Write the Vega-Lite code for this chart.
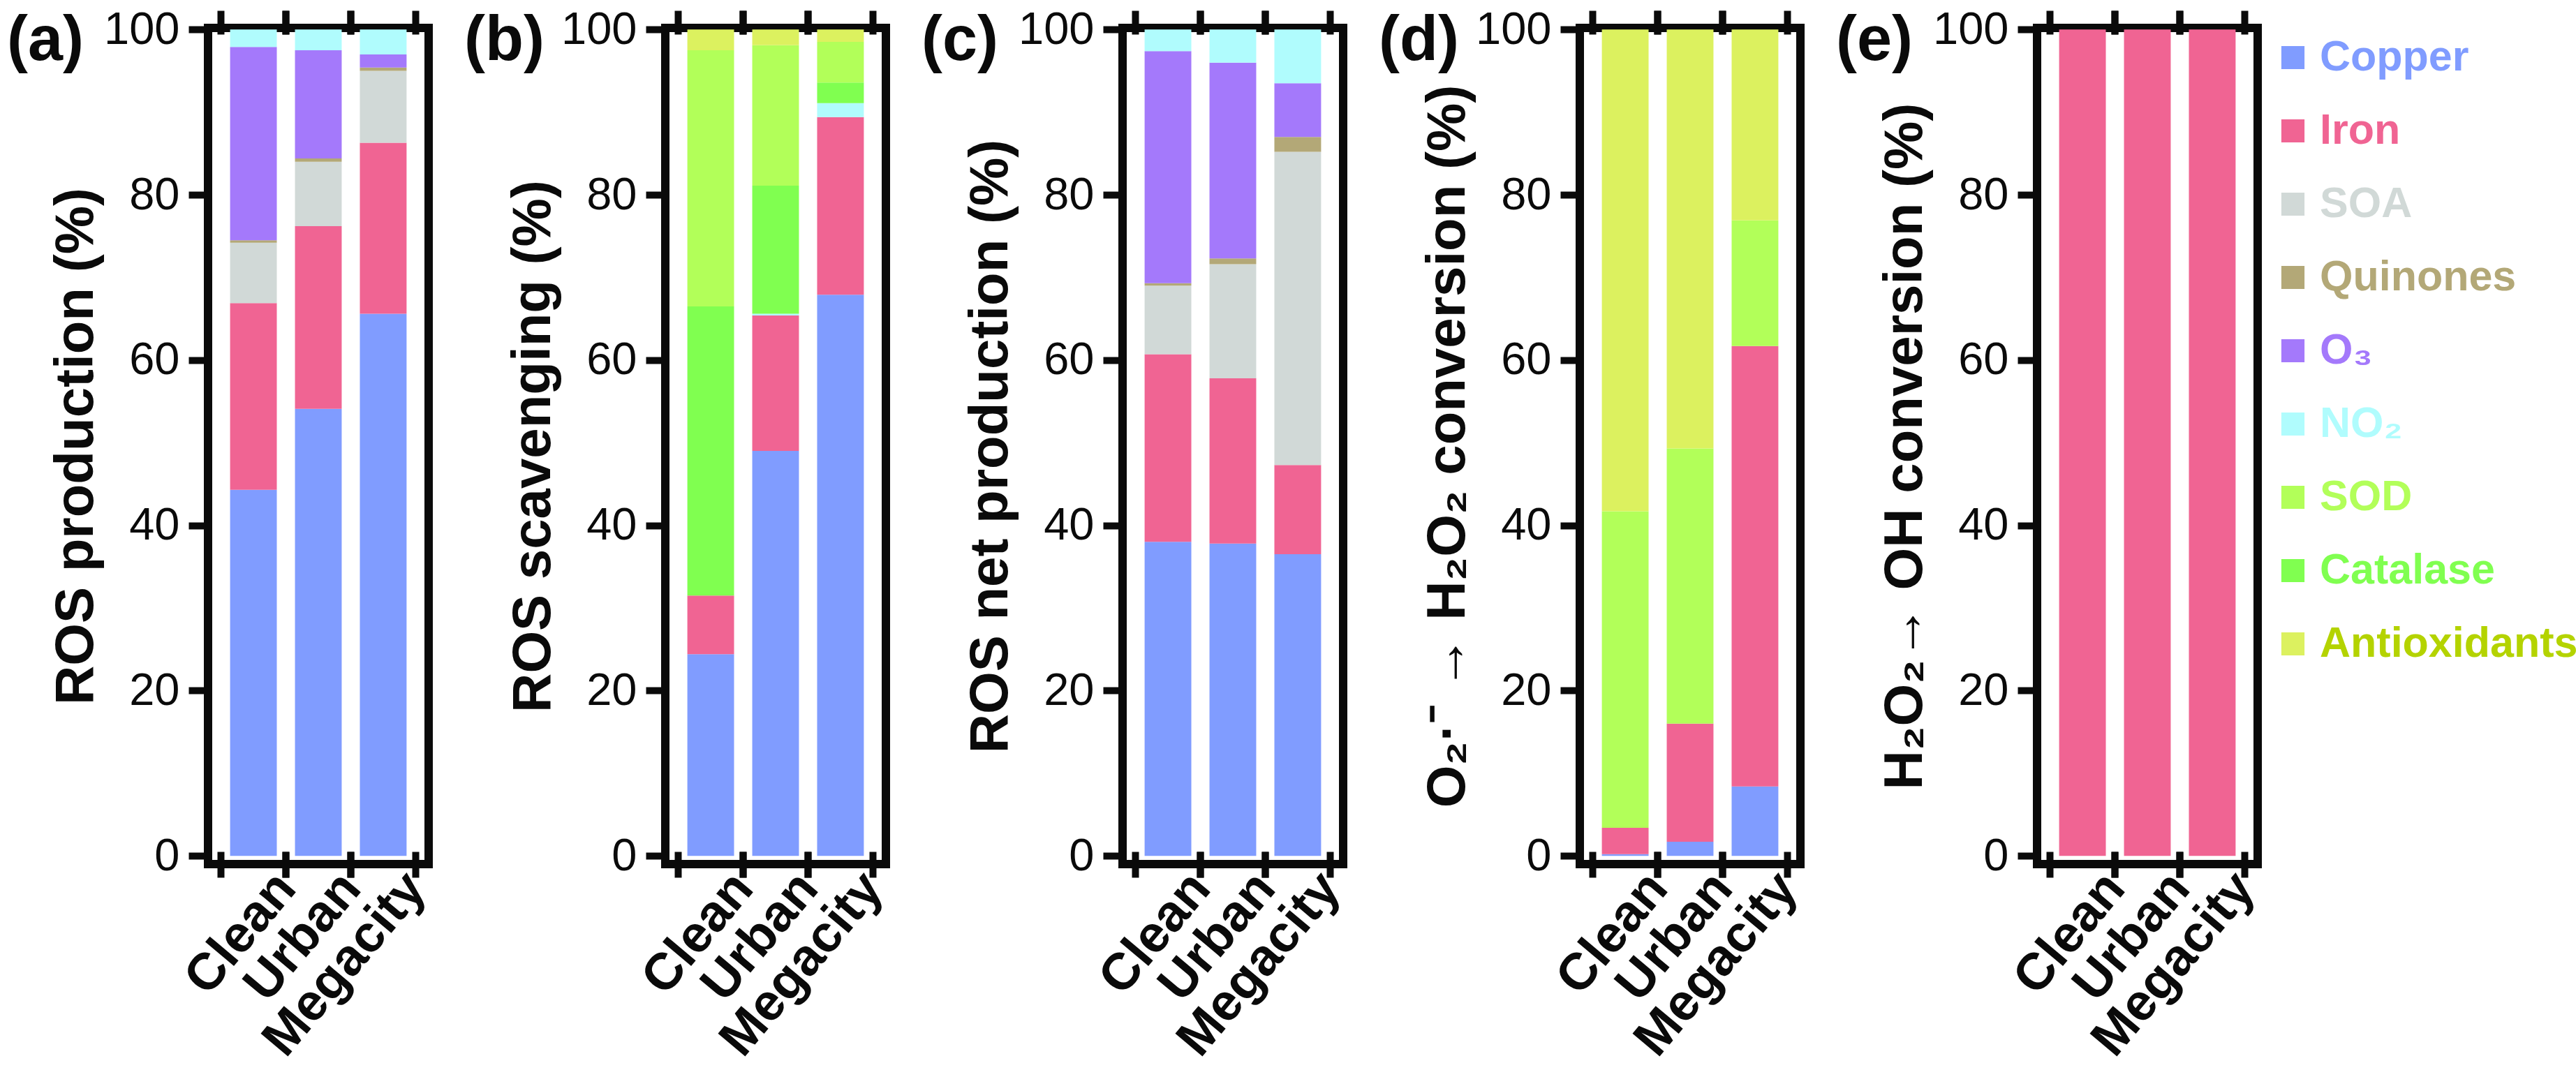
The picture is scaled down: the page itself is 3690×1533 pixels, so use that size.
{
  "$schema": "https://vega.github.io/schema/vega-lite/v6.json",
  "padding": {"top": 4, "left": 4, "right": 0, "bottom": 0},
  "autosize": {"type": "pad"},
  "background": "white",
  "data": {"values": [
    {"panel":"a","site":"Clean","source":"Copper","tier":1,"value":44.3},
    {"panel":"a","site":"Clean","source":"Iron","tier":2,"value":22.6},
    {"panel":"a","site":"Clean","source":"SOA","tier":3,"value":7.3},
    {"panel":"a","site":"Clean","source":"Quinones","tier":4,"value":0.3},
    {"panel":"a","site":"Clean","source":"O₃","tier":5,"value":23.4},
    {"panel":"a","site":"Clean","source":"NO₂","tier":6,"value":2.1},
    {"panel":"a","site":"Urban","source":"Copper","tier":1,"value":54.1},
    {"panel":"a","site":"Urban","source":"Iron","tier":2,"value":22.1},
    {"panel":"a","site":"Urban","source":"SOA","tier":3,"value":7.8},
    {"panel":"a","site":"Urban","source":"Quinones","tier":4,"value":0.4},
    {"panel":"a","site":"Urban","source":"O₃","tier":5,"value":13.1},
    {"panel":"a","site":"Urban","source":"NO₂","tier":6,"value":2.5},
    {"panel":"a","site":"Megacity","source":"Copper","tier":1,"value":65.6},
    {"panel":"a","site":"Megacity","source":"Iron","tier":2,"value":20.7},
    {"panel":"a","site":"Megacity","source":"SOA","tier":3,"value":8.7},
    {"panel":"a","site":"Megacity","source":"Quinones","tier":4,"value":0.4},
    {"panel":"a","site":"Megacity","source":"O₃","tier":5,"value":1.6},
    {"panel":"a","site":"Megacity","source":"NO₂","tier":6,"value":3.0},
    {"panel":"b","site":"Clean","source":"Copper","tier":1,"value":24.4},
    {"panel":"b","site":"Clean","source":"Iron","tier":2,"value":7.1},
    {"panel":"b","site":"Clean","source":"Catalase","tier":7,"value":35.0},
    {"panel":"b","site":"Clean","source":"SOD","tier":8,"value":31.0},
    {"panel":"b","site":"Clean","source":"Antioxidants","tier":9,"value":2.5},
    {"panel":"b","site":"Urban","source":"Copper","tier":1,"value":49.0},
    {"panel":"b","site":"Urban","source":"Iron","tier":2,"value":16.4},
    {"panel":"b","site":"Urban","source":"NO₂","tier":6,"value":0.2},
    {"panel":"b","site":"Urban","source":"Catalase","tier":7,"value":15.5},
    {"panel":"b","site":"Urban","source":"SOD","tier":8,"value":17.0},
    {"panel":"b","site":"Urban","source":"Antioxidants","tier":9,"value":1.9},
    {"panel":"b","site":"Megacity","source":"Copper","tier":1,"value":67.9},
    {"panel":"b","site":"Megacity","source":"Iron","tier":2,"value":21.5},
    {"panel":"b","site":"Megacity","source":"NO₂","tier":6,"value":1.7},
    {"panel":"b","site":"Megacity","source":"Catalase","tier":7,"value":2.5},
    {"panel":"b","site":"Megacity","source":"SOD","tier":8,"value":4.9},
    {"panel":"b","site":"Megacity","source":"Antioxidants","tier":9,"value":1.5},
    {"panel":"c","site":"Clean","source":"Copper","tier":1,"value":38.0},
    {"panel":"c","site":"Clean","source":"Iron","tier":2,"value":22.7},
    {"panel":"c","site":"Clean","source":"SOA","tier":3,"value":8.3},
    {"panel":"c","site":"Clean","source":"Quinones","tier":4,"value":0.3},
    {"panel":"c","site":"Clean","source":"O₃","tier":5,"value":28.1},
    {"panel":"c","site":"Clean","source":"NO₂","tier":6,"value":2.6},
    {"panel":"c","site":"Urban","source":"Copper","tier":1,"value":37.8},
    {"panel":"c","site":"Urban","source":"Iron","tier":2,"value":20.0},
    {"panel":"c","site":"Urban","source":"SOA","tier":3,"value":13.8},
    {"panel":"c","site":"Urban","source":"Quinones","tier":4,"value":0.7},
    {"panel":"c","site":"Urban","source":"O₃","tier":5,"value":23.7},
    {"panel":"c","site":"Urban","source":"NO₂","tier":6,"value":4.0},
    {"panel":"c","site":"Megacity","source":"Copper","tier":1,"value":36.5},
    {"panel":"c","site":"Megacity","source":"Iron","tier":2,"value":10.8},
    {"panel":"c","site":"Megacity","source":"SOA","tier":3,"value":37.9},
    {"panel":"c","site":"Megacity","source":"Quinones","tier":4,"value":1.8},
    {"panel":"c","site":"Megacity","source":"O₃","tier":5,"value":6.5},
    {"panel":"c","site":"Megacity","source":"NO₂","tier":6,"value":6.5},
    {"panel":"d","site":"Clean","source":"Copper","tier":1,"value":0.2},
    {"panel":"d","site":"Clean","source":"Iron","tier":2,"value":3.2},
    {"panel":"d","site":"Clean","source":"SOD","tier":8,"value":38.3},
    {"panel":"d","site":"Clean","source":"Antioxidants","tier":9,"value":58.3},
    {"panel":"d","site":"Urban","source":"Copper","tier":1,"value":1.7},
    {"panel":"d","site":"Urban","source":"Iron","tier":2,"value":14.3},
    {"panel":"d","site":"Urban","source":"SOD","tier":8,"value":33.3},
    {"panel":"d","site":"Urban","source":"Antioxidants","tier":9,"value":50.7},
    {"panel":"d","site":"Megacity","source":"Copper","tier":1,"value":8.4},
    {"panel":"d","site":"Megacity","source":"Iron","tier":2,"value":53.3},
    {"panel":"d","site":"Megacity","source":"SOD","tier":8,"value":15.2},
    {"panel":"d","site":"Megacity","source":"Antioxidants","tier":9,"value":23.1},
    {"panel":"e","site":"Clean","source":"Iron","tier":2,"value":100},
    {"panel":"e","site":"Urban","source":"Iron","tier":2,"value":100},
    {"panel":"e","site":"Megacity","source":"Iron","tier":2,"value":100}
  ]},
  "spacing": 339,
  "bounds": "flush",
  "hconcat": [
    {
      "title": {"text": "(a)"},
      "width": 316, "height": 1198,
      "transform": [{"filter": "datum.panel === 'a'"}],
      "encoding": {
        "y": {"field": "value", "type": "quantitative", "stack": "zero",
              "scale": {"domain": [-1, 100.2], "nice": false, "zero": false},
              "axis": {"title": "ROS production (%)", "values": [0, 20, 40, 60, 80, 100]}}
      },
      "layer": [
        {"mark": {"type": "bar", "width": {"band": 0.72}},
         "encoding": {
           "x": {"field": "site", "type": "nominal", "sort": ["Clean", "Urban", "Megacity"], "scale": {"paddingInner": 0, "paddingOuter": 0.2},
                 "axis": {"orient": "bottom", "bandPosition": 0, "offset": -18, "tickSize": 37, "labels": true, "title": null}},
           "color": {"field": "source", "type": "nominal",
                     "scale": {"domain": ["Copper", "Iron", "SOA", "Quinones", "O₃", "NO₂", "SOD", "Catalase", "Antioxidants"],
                               "range": ["#809CFF", "#F06493", "#D1D9D7", "#B3A877", "#A479FB", "#B0FCFD", "#B2FF59", "#80FF50", "#DCF15F"]},
                     "legend": {"orient": "none", "legendX": 2956, "legendY": 12, "title": null, "padding": 0,
                                "symbolType": "square", "symbolSize": 1100, "symbolStrokeWidth": 0, "symbolOpacity": 1,
                                "labelFontSize": 61, "labelFontWeight": "bold", "labelFont": "Liberation Sans", "labelOffset": 8, "labelLimit": 600, "rowPadding": 43,
                                "labelColor": {"expr": "datum.value === 'Antioxidants' ? '#B4D300' : scale('color', datum.value)"}}},
           "order": {"field": "tier", "type": "quantitative", "sort": "ascending"}
         }},
        {"mark": {"type": "bar", "width": {"band": 0.72}, "opacity": 0},
         "encoding": {"x": {"field": "site", "type": "nominal", "sort": ["Clean", "Urban", "Megacity"], "axis": {"orient": "bottom", "bandPosition": 1, "offset": -18, "tickSize": 37, "labels": false, "title": null}}}},
        {"mark": {"type": "bar", "width": {"band": 0.72}, "opacity": 0},
         "encoding": {"x": {"field": "site", "type": "nominal", "sort": ["Clean", "Urban", "Megacity"], "axis": {"orient": "top", "bandPosition": 0, "offset": -9, "tickSize": 34, "labels": false, "title": null}}}},
        {"mark": {"type": "bar", "width": {"band": 0.72}, "opacity": 0},
         "encoding": {"x": {"field": "site", "type": "nominal", "sort": ["Clean", "Urban", "Megacity"], "axis": {"orient": "top", "bandPosition": 1, "offset": -9, "tickSize": 34, "labels": false, "title": null}}}}
      ],
      "resolve": {"axis": {"x": "independent"}}
    },
    {
      "title": {"text": "(b)"},
      "width": 316, "height": 1198,
      "transform": [{"filter": "datum.panel === 'b'"}],
      "encoding": {
        "y": {"field": "value", "type": "quantitative", "stack": "zero",
              "scale": {"domain": [-1, 100.2], "nice": false, "zero": false},
              "axis": {"title": "ROS scavenging (%)", "values": [0, 20, 40, 60, 80, 100]}}
      },
      "layer": [
        {"mark": {"type": "bar", "width": {"band": 0.72}},
         "encoding": {
           "x": {"field": "site", "type": "nominal", "sort": ["Clean", "Urban", "Megacity"], "scale": {"paddingInner": 0, "paddingOuter": 0.2},
                 "axis": {"orient": "bottom", "bandPosition": 0, "offset": -18, "tickSize": 37, "labels": true, "title": null}},
           "color": {"field": "source", "type": "nominal",
                     "scale": {"domain": ["Copper", "Iron", "SOA", "Quinones", "O₃", "NO₂", "SOD", "Catalase", "Antioxidants"],
                               "range": ["#809CFF", "#F06493", "#D1D9D7", "#B3A877", "#A479FB", "#B0FCFD", "#B2FF59", "#80FF50", "#DCF15F"]}},
           "order": {"field": "tier", "type": "quantitative", "sort": "ascending"}
         }},
        {"mark": {"type": "bar", "width": {"band": 0.72}, "opacity": 0},
         "encoding": {"x": {"field": "site", "type": "nominal", "sort": ["Clean", "Urban", "Megacity"], "axis": {"orient": "bottom", "bandPosition": 1, "offset": -18, "tickSize": 37, "labels": false, "title": null}}}},
        {"mark": {"type": "bar", "width": {"band": 0.72}, "opacity": 0},
         "encoding": {"x": {"field": "site", "type": "nominal", "sort": ["Clean", "Urban", "Megacity"], "axis": {"orient": "top", "bandPosition": 0, "offset": -9, "tickSize": 34, "labels": false, "title": null}}}},
        {"mark": {"type": "bar", "width": {"band": 0.72}, "opacity": 0},
         "encoding": {"x": {"field": "site", "type": "nominal", "sort": ["Clean", "Urban", "Megacity"], "axis": {"orient": "top", "bandPosition": 1, "offset": -9, "tickSize": 34, "labels": false, "title": null}}}}
      ],
      "resolve": {"axis": {"x": "independent"}}
    },
    {
      "title": {"text": "(c)"},
      "width": 316, "height": 1198,
      "transform": [{"filter": "datum.panel === 'c'"}],
      "encoding": {
        "y": {"field": "value", "type": "quantitative", "stack": "zero",
              "scale": {"domain": [-1, 100.2], "nice": false, "zero": false},
              "axis": {"title": "ROS net production (%)", "values": [0, 20, 40, 60, 80, 100]}}
      },
      "layer": [
        {"mark": {"type": "bar", "width": {"band": 0.72}},
         "encoding": {
           "x": {"field": "site", "type": "nominal", "sort": ["Clean", "Urban", "Megacity"], "scale": {"paddingInner": 0, "paddingOuter": 0.2},
                 "axis": {"orient": "bottom", "bandPosition": 0, "offset": -18, "tickSize": 37, "labels": true, "title": null}},
           "color": {"field": "source", "type": "nominal",
                     "scale": {"domain": ["Copper", "Iron", "SOA", "Quinones", "O₃", "NO₂", "SOD", "Catalase", "Antioxidants"],
                               "range": ["#809CFF", "#F06493", "#D1D9D7", "#B3A877", "#A479FB", "#B0FCFD", "#B2FF59", "#80FF50", "#DCF15F"]}},
           "order": {"field": "tier", "type": "quantitative", "sort": "ascending"}
         }},
        {"mark": {"type": "bar", "width": {"band": 0.72}, "opacity": 0},
         "encoding": {"x": {"field": "site", "type": "nominal", "sort": ["Clean", "Urban", "Megacity"], "axis": {"orient": "bottom", "bandPosition": 1, "offset": -18, "tickSize": 37, "labels": false, "title": null}}}},
        {"mark": {"type": "bar", "width": {"band": 0.72}, "opacity": 0},
         "encoding": {"x": {"field": "site", "type": "nominal", "sort": ["Clean", "Urban", "Megacity"], "axis": {"orient": "top", "bandPosition": 0, "offset": -9, "tickSize": 34, "labels": false, "title": null}}}},
        {"mark": {"type": "bar", "width": {"band": 0.72}, "opacity": 0},
         "encoding": {"x": {"field": "site", "type": "nominal", "sort": ["Clean", "Urban", "Megacity"], "axis": {"orient": "top", "bandPosition": 1, "offset": -9, "tickSize": 34, "labels": false, "title": null}}}}
      ],
      "resolve": {"axis": {"x": "independent"}}
    },
    {
      "title": {"text": "(d)"},
      "width": 316, "height": 1198,
      "transform": [{"filter": "datum.panel === 'd'"}],
      "encoding": {
        "y": {"field": "value", "type": "quantitative", "stack": "zero",
              "scale": {"domain": [-1, 100.2], "nice": false, "zero": false},
              "axis": {"title": "O₂·⁻ → H₂O₂ conversion (%)", "values": [0, 20, 40, 60, 80, 100]}}
      },
      "layer": [
        {"mark": {"type": "bar", "width": {"band": 0.72}},
         "encoding": {
           "x": {"field": "site", "type": "nominal", "sort": ["Clean", "Urban", "Megacity"], "scale": {"paddingInner": 0, "paddingOuter": 0.2},
                 "axis": {"orient": "bottom", "bandPosition": 0, "offset": -18, "tickSize": 37, "labels": true, "title": null}},
           "color": {"field": "source", "type": "nominal",
                     "scale": {"domain": ["Copper", "Iron", "SOA", "Quinones", "O₃", "NO₂", "SOD", "Catalase", "Antioxidants"],
                               "range": ["#809CFF", "#F06493", "#D1D9D7", "#B3A877", "#A479FB", "#B0FCFD", "#B2FF59", "#80FF50", "#DCF15F"]}},
           "order": {"field": "tier", "type": "quantitative", "sort": "ascending"}
         }},
        {"mark": {"type": "bar", "width": {"band": 0.72}, "opacity": 0},
         "encoding": {"x": {"field": "site", "type": "nominal", "sort": ["Clean", "Urban", "Megacity"], "axis": {"orient": "bottom", "bandPosition": 1, "offset": -18, "tickSize": 37, "labels": false, "title": null}}}},
        {"mark": {"type": "bar", "width": {"band": 0.72}, "opacity": 0},
         "encoding": {"x": {"field": "site", "type": "nominal", "sort": ["Clean", "Urban", "Megacity"], "axis": {"orient": "top", "bandPosition": 0, "offset": -9, "tickSize": 34, "labels": false, "title": null}}}},
        {"mark": {"type": "bar", "width": {"band": 0.72}, "opacity": 0},
         "encoding": {"x": {"field": "site", "type": "nominal", "sort": ["Clean", "Urban", "Megacity"], "axis": {"orient": "top", "bandPosition": 1, "offset": -9, "tickSize": 34, "labels": false, "title": null}}}}
      ],
      "resolve": {"axis": {"x": "independent"}}
    },
    {
      "title": {"text": "(e)"},
      "width": 316, "height": 1198,
      "transform": [{"filter": "datum.panel === 'e'"}],
      "encoding": {
        "y": {"field": "value", "type": "quantitative", "stack": "zero",
              "scale": {"domain": [-1, 100.2], "nice": false, "zero": false},
              "axis": {"title": "H₂O₂→ OH conversion (%)", "values": [0, 20, 40, 60, 80, 100]}}
      },
      "layer": [
        {"mark": {"type": "bar", "width": {"band": 0.72}},
         "encoding": {
           "x": {"field": "site", "type": "nominal", "sort": ["Clean", "Urban", "Megacity"], "scale": {"paddingInner": 0, "paddingOuter": 0.2},
                 "axis": {"orient": "bottom", "bandPosition": 0, "offset": -18, "tickSize": 37, "labels": true, "title": null}},
           "color": {"field": "source", "type": "nominal",
                     "scale": {"domain": ["Copper", "Iron", "SOA", "Quinones", "O₃", "NO₂", "SOD", "Catalase", "Antioxidants"],
                               "range": ["#809CFF", "#F06493", "#D1D9D7", "#B3A877", "#A479FB", "#B0FCFD", "#B2FF59", "#80FF50", "#DCF15F"]}},
           "order": {"field": "tier", "type": "quantitative", "sort": "ascending"}
         }},
        {"mark": {"type": "bar", "width": {"band": 0.72}, "opacity": 0},
         "encoding": {"x": {"field": "site", "type": "nominal", "sort": ["Clean", "Urban", "Megacity"], "axis": {"orient": "bottom", "bandPosition": 1, "offset": -18, "tickSize": 37, "labels": false, "title": null}}}},
        {"mark": {"type": "bar", "width": {"band": 0.72}, "opacity": 0},
         "encoding": {"x": {"field": "site", "type": "nominal", "sort": ["Clean", "Urban", "Megacity"], "axis": {"orient": "top", "bandPosition": 0, "offset": -9, "tickSize": 34, "labels": false, "title": null}}}},
        {"mark": {"type": "bar", "width": {"band": 0.72}, "opacity": 0},
         "encoding": {"x": {"field": "site", "type": "nominal", "sort": ["Clean", "Urban", "Megacity"], "axis": {"orient": "top", "bandPosition": 1, "offset": -9, "tickSize": 34, "labels": false, "title": null}}}}
      ],
      "resolve": {"axis": {"x": "independent"}}
    }
  ],
  "config": {
    "font": "Liberation Sans",
    "view": {"stroke": "#0A0A0A", "strokeWidth": 12},
    "bar": {"stroke": null},
    "axis": {"grid": false, "domain": false, "tickColor": "#0A0A0A", "tickWidth": 10, "labelColor": "#0A0A0A", "titleColor": "#0A0A0A",
             "labelFont": "Liberation Sans", "titleFont": "Liberation Sans"},
    "axisX": {"labelOverlap": false, "labelBound": false, "labelFlush": false, "labelAngle": -50, "labelAlign": "right", "labelBaseline": "middle",
              "labelOffset": 47, "labelPadding": 3, "labelFontSize": 74, "labelFontWeight": "bold", "labelLimit": 1000},
    "axisY": {"tickSize": 28, "labelFontSize": 65, "labelFontWeight": "normal", "labelPadding": 13,
              "titleFontSize": 78, "titleFontWeight": "bold", "titlePadding": 0},
    "title": {"fontSize": 90, "fontWeight": "bold", "anchor": "start", "frame": "group", "dx": -288, "dy": 99, "offset": 0, "baseline": "alphabetic", "color": "#0A0A0A"}
  }
}
